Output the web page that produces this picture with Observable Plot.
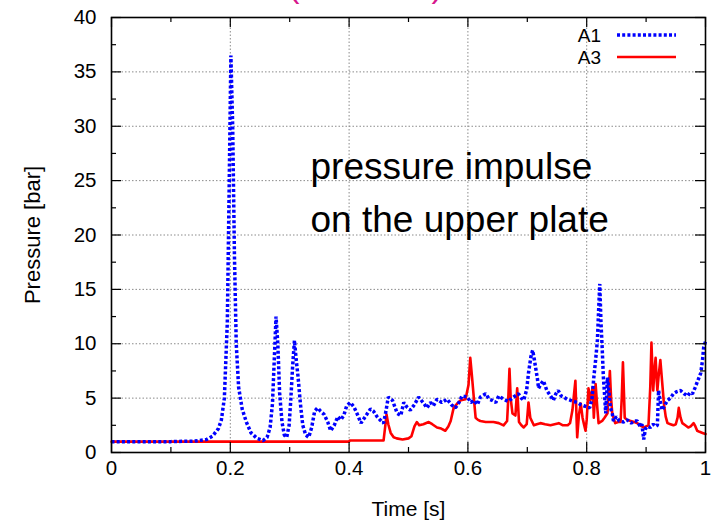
<!DOCTYPE html>
<html><head><meta charset="utf-8">
<script src="https://cdn.jsdelivr.net/npm/d3@7"></script>
<script src="https://cdn.jsdelivr.net/npm/@observablehq/plot@0.6"></script>
<style>
body{margin:0;background:#fff;font-family:"Liberation Sans",Arial,Helvetica,sans-serif;}
#wrap{position:relative;width:713px;height:523px;overflow:hidden;background:#fff;}
#wrap svg{display:block;}
#legend{position:absolute;left:560px;top:20px;}
</style></head><body><div id="wrap"></div>
<script>
// ---- data ----
const a1Time = [0.00,0.05,0.10,0.14,0.16,0.17,0.18,0.185,0.19,0.195,0.198,0.201,0.204,0.207,0.21,0.214,0.22,0.227,0.235,0.245,0.255,0.262,0.267,0.271,0.274,0.277,0.280,0.283,0.287,0.291,0.295,0.299,0.302,0.305,0.308,0.311,0.314,0.318,0.322,0.327,0.332,0.337,0.342,0.347,0.352,0.358,0.364,0.369,0.375,0.381,0.386,0.391,0.396,0.402,0.408,0.414,0.420,0.426,0.431,0.436,0.441,0.447,0.452,0.458,0.462,0.466,0.473,0.481,0.487,0.492,0.497,0.503,0.510,0.517,0.526,0.531,0.537,0.542,0.548,0.556,0.565,0.572,0.579,0.585,0.590,0.599,0.605,0.610,0.616,0.621,0.630,0.636,0.641,0.647,0.652,0.660,0.668,0.677,0.685,0.690,0.694,0.699,0.702,0.706,0.709,0.712,0.714,0.717,0.719,0.723,0.727,0.733,0.738,0.744,0.748,0.752,0.757,0.761,0.767,0.773,0.778,0.784,0.790,0.795,0.800,0.805,0.809,0.812,0.815,0.818,0.820,0.822,0.824,0.826,0.828,0.830,0.832,0.835,0.837,0.840,0.843,0.845,0.850,0.855,0.862,0.868,0.875,0.880,0.885,0.890,0.893,0.896,0.899,0.903,0.907,0.912,0.916,0.919,0.921,0.924,0.927,0.931,0.936,0.941,0.946,0.952,0.958,0.964,0.970,0.974,0.978,0.982,0.987,0.992,0.995,0.997,1.000];
const a1Pressure = [1.0,1.0,1.0,1.05,1.2,1.5,2.2,3.0,5.0,12,24,36.5,30,18,10,6,4,2.8,1.8,1.3,1.1,1.4,2.3,4.5,8.5,12.5,10,5.5,2.8,1.6,1.4,2.5,5,8,10.3,8.5,7,4.5,2.5,1.6,1.4,2.3,3.8,4.1,3.8,3.5,2.8,2.0,2.5,3.3,3.0,3.4,4.3,4.6,4.2,3.5,2.7,3.2,3.6,4.0,3.8,3.3,3.0,2.7,3.8,5.1,4.8,3.6,3.4,4.6,4.2,3.9,4.4,5.1,4.5,4.1,4.6,4.3,4.9,4.6,4.9,4.4,4.1,4.6,5.2,5.1,4.6,4.8,4.4,5.1,5.4,4.9,4.8,4.6,5.2,4.9,4.7,5.1,5.4,5.0,4.8,5.8,7.3,8.8,9.4,8.5,7.8,6.8,5.9,6.3,6.6,5.7,5.3,4.8,5.4,5.7,5.2,5.1,4.9,4.8,4.7,4.6,4.4,4.3,4.2,4.1,5.0,6.9,8.5,10.3,13,15.5,12,9.7,7,5.4,3.6,6.9,5.8,4.1,3.6,2.9,3.3,2.9,2.8,3.0,2.7,2.9,2.9,2.4,2.6,1.2,2.2,2.4,2.3,2.6,2.4,2.5,5.7,4.6,3.9,4.3,4.8,5.0,5.4,5.6,5.7,5.4,5.2,5.5,5.4,5.9,6.6,7.3,8.5,9.7,10.2];
const a3Time = [0.0,0.4,0.401,0.458,0.461,0.463,0.466,0.47,0.475,0.48,0.49,0.50,0.505,0.51,0.514,0.518,0.525,0.534,0.54,0.548,0.555,0.562,0.567,0.571,0.576,0.582,0.588,0.596,0.601,0.604,0.607,0.610,0.613,0.617,0.621,0.63,0.643,0.652,0.66,0.666,0.668,0.670,0.672,0.675,0.68,0.683,0.686,0.69,0.694,0.699,0.702,0.705,0.711,0.716,0.722,0.73,0.739,0.746,0.753,0.76,0.768,0.772,0.776,0.778,0.781,0.783,0.784,0.787,0.79,0.793,0.795,0.798,0.80,0.803,0.806,0.81,0.812,0.815,0.818,0.82,0.826,0.83,0.835,0.837,0.839,0.841,0.843,0.848,0.853,0.857,0.859,0.861,0.863,0.864,0.868,0.874,0.88,0.885,0.89,0.896,0.90,0.904,0.907,0.909,0.911,0.912,0.914,0.916,0.918,0.919,0.921,0.924,0.927,0.93,0.933,0.936,0.941,0.946,0.95,0.953,0.955,0.958,0.961,0.966,0.971,0.975,0.98,0.983,0.986,0.99,0.995,1.0];
const a3Pressure = [1.0,1.0,1.1,1.1,2.5,3.5,2.6,1.8,1.4,1.3,1.2,1.3,1.5,2.4,2.8,2.5,2.6,2.8,2.6,2.3,2.2,2.0,2.4,2.9,4.1,4.5,4.8,4.9,6.2,8.7,6.9,5.0,3.2,3.0,2.9,2.8,2.8,2.7,2.5,2.9,5,7.7,5,3.6,3.4,5.9,2.8,2.5,2.3,2.6,4.6,3.2,2.5,2.6,2.7,2.6,2.5,2.6,2.7,2.5,2.5,2.7,3.9,5,6.6,3,1.4,3.5,4.5,3.2,2.7,2.0,3.0,5.9,4.8,6.0,3.2,6.3,4,2.7,2.9,3.2,3.6,5.5,7.5,5,3.6,2.7,2.8,2.8,5,8.3,5,3.2,3.0,2.9,2.8,2.7,2.5,2.3,2.4,2.5,6,10.1,7,5.7,7.5,8.7,6.5,5.7,7,8.5,6.5,4.5,3.3,2.7,2.6,2.5,2.6,3.2,4.1,3.2,2.7,2.5,2.3,2.4,2.7,2.4,2.0,1.9,1.8,1.7];
const seriesNames = ["A1", "A3"];
const xTicks = [0, 0.2, 0.4, 0.6, 0.8, 1];
const xMinor = [0.1, 0.3, 0.5, 0.7, 0.9];
const xGrid = [0.2, 0.4, 0.6, 0.8];
const yTicks = [0, 5, 10, 15, 20, 25, 30, 35, 40];
const yMinor = [2.5, 7.5, 12.5, 17.5, 22.5, 27.5, 32.5, 37.5];
const yGrid = [5, 10, 15, 20, 25, 30, 35];
const xLabel = "Time [s]";
const yLabel = "Pressure [bar]";
const titleText = "(test case)";
const noteText = "pressure impulse\non the upper plate";

const A1 = a1Time.map((t, i) => ({t, p: a1Pressure[i]}));
const A3 = a3Time.map((t, i) => ({t, p: a3Pressure[i]}));

const BLUE = "#0000ff", RED = "#ff0000";
const blueStyle = {stroke: BLUE, strokeWidth: 3.5, strokeDasharray: "3,2.2"};
const redStyle = {stroke: RED, strokeWidth: 2.6};

const W = 713, H = 523;
const mL = 111, mR = 8, mT = 17, mB = 71;
const pw = W - mL - mR, ph = H - mT - mB;

const chart = Plot.plot({
  width: W, height: H,
  marginLeft: mL, marginRight: mR, marginTop: mT, marginBottom: mB,
  style: {fontFamily: '"Liberation Sans", Arial, Helvetica, sans-serif', fontSize: "20.5px", color: "#000", background: "#fff", overflow: "visible"},
  x: {domain: [0, 1], ticks: xTicks, tickSize: 0, tickPadding: 8, tickFormat: d => String(d), label: null},
  y: {domain: [0, 40], ticks: yTicks, tickSize: 0, tickPadding: 15, tickFormat: d => String(d), label: null},
  marks: [
    Plot.ruleX(xGrid, {x: d => d, stroke: "#8a8a8a", strokeWidth: 1, strokeDasharray: "1.5,2", strokeOpacity: 1}),
    Plot.ruleY(yGrid, {y: d => d, stroke: "#8a8a8a", strokeWidth: 1, strokeDasharray: "1.5,2", strokeOpacity: 1}),
    Plot.line(A3, {x: "t", y: "p", ...redStyle, strokeLinejoin: "round"}),
    Plot.line(A1, {x: "t", y: "p", ...blueStyle, strokeLinecap: "butt", strokeLinejoin: "miter"}),
    // inward ticks (bottom, top, left, right)
    Plot.tickX(xTicks, {x: d => d, insetTop: ph - 10, stroke: "#000", strokeWidth: 1.2}),
    Plot.tickX(xTicks, {x: d => d, insetBottom: ph - 10, stroke: "#000", strokeWidth: 1.2}),
    Plot.tickX(xMinor, {x: d => d, insetTop: ph - 5, stroke: "#000", strokeWidth: 1.2}),
    Plot.tickX(xMinor, {x: d => d, insetBottom: ph - 5, stroke: "#000", strokeWidth: 1.2}),
    Plot.tickY(yTicks, {y: d => d, insetRight: pw - 10, stroke: "#000", strokeWidth: 1.2}),
    Plot.tickY(yTicks, {y: d => d, insetLeft: pw - 10, stroke: "#000", strokeWidth: 1.2}),
    Plot.tickY(yMinor, {y: d => d, insetRight: pw - 5, stroke: "#000", strokeWidth: 1.2}),
    Plot.tickY(yMinor, {y: d => d, insetLeft: pw - 5, stroke: "#000", strokeWidth: 1.2}),
    Plot.frame({stroke: "#000", strokeWidth: 1.6}),
    Plot.text([xLabel], {text: d => d, frameAnchor: "bottom", textAnchor: "middle", lineAnchor: "middle", dy: 57, fontSize: 21, fill: "#000"}),
    Plot.text([yLabel], {text: d => d, frameAnchor: "left", textAnchor: "middle", lineAnchor: "middle", dx: -79, rotate: -90, fontSize: 22, fill: "#000"}),
    Plot.text([titleText], {text: d => d, frameAnchor: "top", textAnchor: "middle", dx: -43, dy: -mT - 4, lineAnchor: "bottom", fontSize: 33, fill: "#d6168c"}),
    Plot.text([noteText], {text: d => d, frameAnchor: "top-left", textAnchor: "start", lineAnchor: "top", dx: 199, dy: 123, fontSize: 37, lineHeight: 1.45, fill: "#000"})
  ]
});
document.getElementById("wrap").appendChild(chart);

// legend (inside top-right of the frame)
const leg = d3.select("#wrap").append("svg").attr("id", "legend").attr("width", 140).attr("height", 52);
const rows = [{name: seriesNames[0], style: blueStyle}, {name: seriesNames[1], style: redStyle}];
rows.forEach((r, i) => {
  const cy = 15 + i * 22;
  leg.append("text").attr("x", 41).attr("y", cy).attr("dy", "0.35em").attr("text-anchor", "end")
    .attr("font-size", 19).attr("font-family", '"Liberation Sans", Arial, sans-serif').text(r.name);
  leg.append("line").attr("x1", 57).attr("x2", 116).attr("y1", cy).attr("y2", cy)
    .attr("stroke", r.style.stroke).attr("stroke-width", r.style.strokeWidth)
    .attr("stroke-dasharray", r.style.strokeDasharray || null);
});
</script>
</body></html>
